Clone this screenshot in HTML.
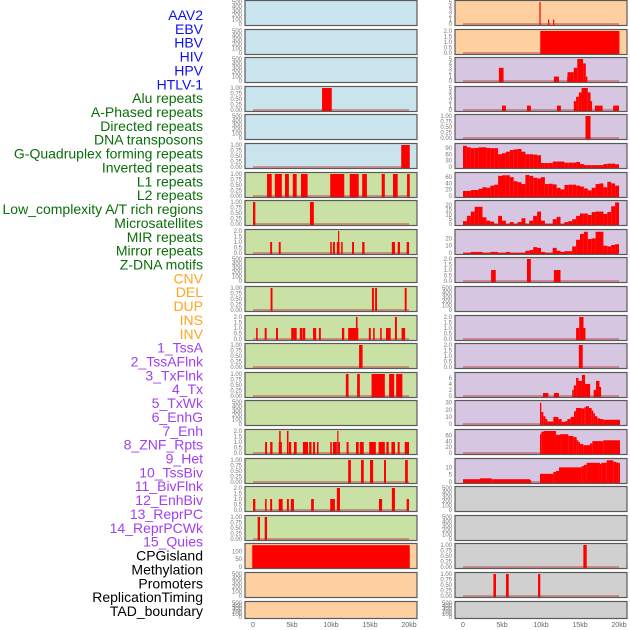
<!DOCTYPE html>
<html><head><meta charset="utf-8">
<style>
html,body{margin:0;padding:0;background:#fff;width:630px;height:630px;overflow:hidden}
svg{display:block}
</style></head>
<body>
<svg id="chart" width="630" height="630" xmlns="http://www.w3.org/2000/svg" style="font-family:'Liberation Sans',sans-serif"></svg>
<script>
// ---- labels ----
const trackLabels = ["AAV2","EBV","HBV","HIV","HPV","HTLV-1","Alu repeats","A-Phased repeats","Directed repeats","DNA transposons","G-Quadruplex forming repeats","Inverted repeats","L1 repeats","L2 repeats","Low_complexity A/T rich regions","Microsatellites","MIR repeats","Mirror repeats","Z-DNA motifs","CNV","DEL","DUP","INS","INV","1_TssA","2_TssAFlnk","3_TxFlnk","4_Tx","5_TxWk","6_EnhG","7_Enh","8_ZNF_Rpts","9_Het","10_TssBiv","11_BivFlnk","12_EnhBiv","13_ReprPC","14_ReprPCWk","15_Quies","CPGisland","Methylation","Promoters","ReplicationTiming","TAD_boundary"];
const labelGroups = [6,13,5,15,5];
const xTickValues = [0,5,10,15,20];
const xTickLabels = ["0","5kb","10kb","15kb","20kb"];

// ---- left column data (kb start, kb end, value) ----
const L4 = [[8.85,10.1,1]];
const L6 = [[19.0,20.1,1]];
const L7 = [[1.8,2.4,1],[2.8,3.7,1],[4.1,4.6,1],[5.1,5.6,1],[6.15,7.0,1],[9.9,11.7,1],[12.4,13.55,1],[14.0,14.6,1],[16.5,16.9,1],[17.95,18.55,1],[19.75,20.1,1]];
const L8 = [[0,0.3,1],[7.3,7.8,1]];
const L9 = [[2.2,2.45,1],[3.3,3.55,1],[9.9,10.1,1],[10.25,10.5,1],[10.75,11.1,1],[10.9,11.0,2],[11.3,11.5,1],[12.7,12.95,1],[14.0,14.3,1],[17.8,18.2,1],[18.55,18.85,1],[19.7,20,1]];
const L11 = [[2.25,2.5,1],[15.25,15.5,1],[15.65,15.9,1],[19.45,19.7,1]];
const L12 = [[0.4,0.6,1],[1.5,1.75,1],[2.95,3.2,1],[4.9,5.6,1],[6.0,6.3,1],[6.35,6.7,1],[7.7,8.1,1],[8.45,8.7,1],[11.4,11.7,1],[12.2,13.5,1],[13.2,13.4,2],[14.85,15.1,1],[15.4,15.6,1],[16.3,16.5,1],[17.05,17.65,1],[18.2,18.45,2],[19.05,19.5,1]];
const L13 = [[13.6,14.05,1]];
const L14 = [[11.9,12.25,1],[13.35,13.7,1],[15.2,16.9,1],[17.45,18.1,1],[18.35,19.15,1]];
const L16 = [[1.55,1.8,1],[2.2,2.5,1],[3.3,3.7,1],[3.35,3.55,2],[4.35,4.55,2],[4.6,4.9,1],[5.25,5.6,1],[6.4,7.05,1],[7.2,7.5,1],[7.7,7.95,1],[8.2,8.4,1],[9.9,10.1,1],[10.25,10.75,1],[10.8,10.95,2],[10.95,11.15,1],[12.0,12.25,1],[13.2,13.55,1],[13.7,14.2,1],[14.9,15.75,1],[16.1,16.9,1],[17.1,17.4,1],[17.75,18.2,1],[18.55,18.8,1],[19.45,20.0,1]];
const L17 = [[12.2,12.55,1],[13.85,14.2,1],[15.0,15.4,1],[16.8,17.05,1],[19.5,19.85,1]];
const L18 = [[0,0.3,1],[1.55,1.75,1],[2.2,2.45,1],[3.3,3.8,1],[4.35,4.6,1],[4.85,5.25,1],[7.45,7.8,1],[9.9,10.5,1],[10.75,11.15,2],[16.15,16.55,1],[17.8,18.2,2],[19.7,20,1]];
const L19 = [[0.6,0.9,1],[1.5,1.8,1]];
const L20 = [[-0.1,20.1,140]];

// ---- right column data ----
const R1 = [[9.8,9.92,5],[10.9,11.0,1],[11.55,11.65,1]];
const R2 = [[9.9,20.05,2]];
const R3 = [[4.6,5.2,3],[11.65,12.3,1],[13.35,13.4,1],[13.4,14.2,2],[14.2,14.65,3],[14.65,15.4,5],[15.4,15.75,4],[15.75,15.95,1]];
const R4 = [[5.0,5.5,1],[8.2,8.7,1],[12.05,12.55,1],[14.2,14.5,2],[14.5,14.85,3],[14.85,15.2,4],[15.2,16.0,5],[16.0,16.35,4],[16.35,16.55,2],[16.9,17.9,1],[19.25,20,1]];
const R5 = [[15.7,16.35,1]];
// 40 bins of 0.5 kb
const R6bins = [101,94,90,91,94,94,91,90,90,61,66,73,81,84,86,73,61,61,59,56,19,19,19,26,26,26,21,21,21,24,14,9,9,9,9,9,14,16,16,13];
const R7bins = [16,16,19,19,23,28,26,33,36,64,66,66,60,47,44,38,67,64,58,56,60,38,39,37,26,21,35,36,36,33,30,24,18,26,38,40,28,45,40,33];
const R8bins = [3,8.5,13,18,18,7,3.5,2.5,0,8.5,3.5,0,2,0,2,6,0,3.5,8.5,13,3.5,0,0,5,7.5,0,2,3,5,8.5,11,11,9.5,12.5,13,13,10.5,12.5,18.5,22.5];
const R9bins = [0,0,1.5,1.5,1.5,0,0,1.5,1.5,0,0,1.5,0,0,0,0,3,4,8,7,1.5,0,0,7,3,1.5,2.5,2.5,9,18,26,29,19,20,29,29,10,9,11,12];
const R10 = [[3.6,4.2,1],[8.2,8.7,2],[11.65,12.5,1]];
const R12 = [[14.5,14.9,1],[14.9,15.45,2],[15.45,15.7,1]];
const R13 = [[14.85,15.35,2]];
const R14 = [[10.25,10.95,1],[11.65,12.3,1],[14.0,14.2,2],[14.2,14.5,3.5],[14.5,14.8,6],[14.8,15.25,5],[15.25,15.65,7],[15.65,16.3,4],[16.75,17.05,2],[17.05,17.5,5],[17.5,17.7,3]];
const R15 = [[9.87,10.04,30],[10.04,10.3,17],[10.3,10.56,11],[10.56,10.81,7],[10.81,11.58,3.5],[11.58,12.22,10],[12.22,12.65,7],[12.65,13.08,3],[13.08,13.38,4],[13.38,13.8,7],[13.8,14.23,10],[14.23,14.49,18],[14.49,15.21,22.6],[15.21,15.55,22],[15.55,15.73,23.5],[15.73,16.15,25],[16.15,16.5,22.6],[16.5,16.71,19],[16.71,16.92,15],[16.92,17.22,11],[17.22,17.56,8],[17.56,17.99,7],[17.99,20.13,6]];
const R16 = [[9.87,10.04,65],[10.04,10.38,74],[10.38,11.92,76],[11.92,12.44,63],[12.44,13.5,65],[13.5,14.15,59],[14.15,14.57,55],[14.57,14.79,44],[14.79,15.0,38],[15.0,15.43,31],[15.43,16.28,27],[16.28,16.58,33],[16.58,17.99,41],[17.99,20.13,44]];
const R17 = [[0,2.18,1.9],[2.18,3.68,2.5],[3.68,8.59,1.9],[8.59,8.72,1.2],[9.87,11.58,5.6],[11.58,11.92,6.9],[11.92,12.31,7.5],[12.31,15.21,10],[15.21,15.51,10.8],[15.51,15.85,11.7],[15.85,17.56,13.1],[17.56,17.74,12.3],[17.74,18.42,13.1],[18.42,19.27,14.8],[19.27,19.62,13.8],[19.62,19.91,13.3],[19.91,20.13,13]];
const R20 = [[15.43,15.86,1]];
const R21 = [[3.9,4.23,1],[5.51,5.86,1],[9.62,9.91,1]];

// ---- tick sets ----
const T_EMPTY = [0,100,200,300,400,500];
const T_BIN = [0,0.25,0.5,0.75,1];
const T_TWO = [0,0.5,1,1.5,2];
const T_FIVE = [0,1,2,3,4,5];

function binsToSegs(b){ return b.map((v,i)=>[i*0.5,(i+1)*0.5,v]); }

const BG = {blue:"#c9e4ec",orange:"#fed09f",lav:"#d7c6e2",green:"#c9e1a5",grey:"#d0d0d0"};
// panel spec: [bg, ymax, ticks, decimals, data]
const leftPanels = [
 ["blue",500,T_EMPTY,0,null],["blue",500,T_EMPTY,0,null],["blue",500,T_EMPTY,0,null],
 ["blue",1,T_BIN,2,L4],["blue",500,T_EMPTY,0,null],["blue",1,T_BIN,2,L6],
 ["green",1,T_BIN,2,L7],["green",1,T_BIN,2,L8],["green",2,T_TWO,1,L9],["green",500,T_EMPTY,0,null],
 ["green",1,T_BIN,2,L11],["green",2,T_TWO,1,L12],["green",1,T_BIN,2,L13],["green",1,T_BIN,2,L14],
 ["green",500,T_EMPTY,0,null],["green",2,T_TWO,1,L16],["green",1,T_BIN,2,L17],["green",2,T_TWO,1,L18],
 ["green",1,T_BIN,2,L19],["orange",141,[0,50,100],0,L20],["orange",500,T_EMPTY,0,null],["orange",500,T_EMPTY,0,null]
];
const rightPanels = [
 ["orange",5,T_FIVE,0,R1],["orange",2,T_TWO,1,R2],["lav",5,T_FIVE,0,R3],["lav",5,T_FIVE,0,R4],
 ["lav",1,T_BIN,2,R5],["lav",105,[0,30,60,90],0,binsToSegs(R6bins)],["lav",70,[0,20,40,60],0,binsToSegs(R7bins)],
 ["lav",23,[0,5,10,15,20],0,binsToSegs(R8bins)],["lav",30,[0,10,20],0,binsToSegs(R9bins)],
 ["lav",2,T_TWO,1,R10],["lav",500,T_EMPTY,0,null],["lav",2,T_TWO,1,R12],["lav",2,T_TWO,1,R13],
 ["lav",7.3,[0,2,4,6],0,R14],["lav",31,[0,10,20,30],0,R15],["lav",76,[0,20,40,60],0,R16],
 ["lav",15,[0,5,10],0,R17],["grey",500,T_EMPTY,0,null],["grey",500,T_EMPTY,0,null],
 ["grey",1,T_BIN,2,R20],["grey",1,T_BIN,2,R21],["grey",500,T_EMPTY,0,null]
];

const NS="http://www.w3.org/2000/svg";
const svg=document.getElementById("chart");
function mk(tag,attrs,parent){const e=document.createElementNS(NS,tag);for(const k in attrs)e.setAttribute(k,attrs[k]);(parent||svg).appendChild(e);return e;}

// labels
const groupColors=["#1010f0","#0a6e0a","#ffa520","#a040f0","#000000"];
let li=0;
labelGroups.forEach((n,g)=>{for(let k=0;k<n;k++){
  const t=mk("text",{x:203,y:15+13.86*li+5,"text-anchor":"end","font-size":"14",fill:groupColors[g]});
  t.textContent=trackLabels[li];
  
  
  li++;}});

function rowTop(i){return Math.round(i*28.6);}
function drawColumn(panels,x0,col){
  const w=172;
  const xs=kb=>x0+8+kb*7.8;
  panels.forEach((p,i)=>{
    const [bg,ymax,ticks,dec,data]=p;
    const top=rowTop(i)+0.5, h=(i===21?17:25);
    const bottom=top+h;
    const ys=v=>bottom-1.5-v/ymax*(h-3);
    const g=mk("g",{});
    
    
    const r=mk("rect",{x:x0,y:top,width:w,height:h,fill:BG[bg],stroke:"none"},g);
    
    
    if(data){
      const bl=mk("line",{x1:xs(0),x2:xs(20),y1:ys(0),y2:ys(0),stroke:"#c05050","stroke-width":1.5,opacity:0.7},g);
      
      
      data.forEach(s=>{
        const xa=xs(s[0]), xb=xs(s[1]);
        const bw=Math.max(1.2,xb-xa);
        const b=mk("rect",{x:xa,y:ys(s[2]),width:bw,height:ys(0)-ys(s[2])+1,fill:"#ff0000"},g);
        
        
      });
    }
    const fr=mk("rect",{x:x0,y:top,width:w,height:h,fill:"none",stroke:"#5a5a5a","stroke-width":1.2},g);
    
    
    ticks.forEach(t=>{
      const tx=mk("text",{x:x0-3,y:ys(t)+2,"text-anchor":"end","font-size":"6",fill:"#777"},g);
      tx.textContent=t.toFixed(dec);
      
      
    });
  });
  xTickValues.forEach((v,k)=>{
    const t=mk("text",{x:xs(v),y:627,"text-anchor":"middle","font-size":"7",fill:"#666"});
    t.textContent=xTickLabels[k];
    
    
  });
}
drawColumn(leftPanels,245,'left');
drawColumn(rightPanels,455,'right');
</script>
</body></html>
